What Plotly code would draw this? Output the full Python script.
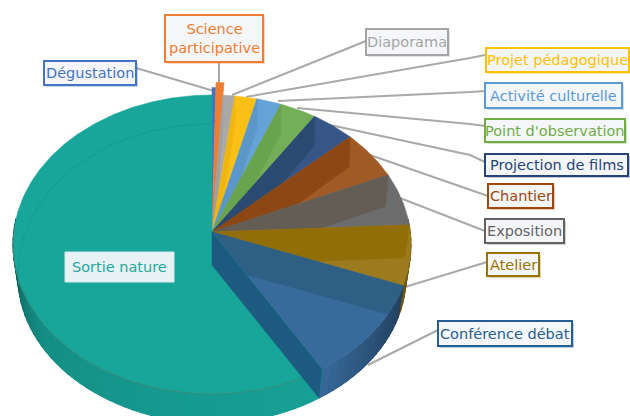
import math
import numpy as np
import plotly.graph_objects as go

# ---- data (share of the pie, %, clockwise from 12 o'clock) ----
categories = ["Dégustation", "Science<br>participative", "Diaporama", "Projet pédagogique",
              "Activité culturelle", "Point d'observation", "Projection de films", "Chantier",
              "Exposition", "Atelier", "Conférence débat", "Sortie nature"]
values = [0.32, 0.64, 1.05, 1.94, 2.17, 3.22, 3.83, 5.33, 5.75, 6.47, 10.67, 58.61]

# ---- style ----
top_colors = ["#4472c4", "#ed7d31", "#a9a9a9", "#fac015", "#65a2d8", "#74ae56", "#375586", "#a05a26",
              "#6c6c6c", "#9c7a1e", "#386b9c", "#18a69b"]
in_colors = ["#4472c4", "#ed7d31", "#9f9f9f", "#f0b60f", "#5b98c9", "#68a44d", "#2b4a72", "#8c4714",
             "#635d56", "#916e08", "#2e6085", "#18a69b"]
text_colors = ["#4472c4", "#ed7d31", "#a5a5a5", "#ffc000", "#5b9bd5", "#70ad47", "#264478", "#9e480e",
               "#636363", "#997300", "#255e91", "#1fa79c"]
explode = [1.06, 1.10, 1, 1, 1, 1, 1, 1, 1, 1, 1, 1]

CX, CY = 212, 232
A, K, P = 198.3, 148.5, 0.0836


def proj(theta, r=1.0):
    X, Y = r * np.sin(theta), r * np.cos(theta)
    s = 1 / (1 + P * Y)
    return CX + A * X * s, CY - K * Y * s


def proj_bottom(theta):
    """Same rim on the underside of the disc."""
    x, y = proj(theta)
    dy = y - CY
    fx = np.interp(dy, [-137, 0, 137], [1.0, 0.975, 0.973])
    d = np.interp(dy, [-137, 0, 137], [29, 33, 29])
    return CX + fx * (x - CX), y + d


CENTER_BOTTOM = (CX, CY + 33)
cum = np.concatenate([[0], np.cumsum(values)]) / sum(values) * 2 * math.pi
fig = go.Figure()


def poly(xs, ys, color, width=0.5, line=None):
    fig.add_trace(go.Scatter(x=list(xs), y=list(ys), mode="lines", fill="toself", fillcolor=color,
                             line=dict(color=line or color, width=width), hoverinfo="skip", showlegend=False))


def stroke(xs, ys, color, width=1.0):
    fig.add_trace(go.Scatter(x=list(xs), y=list(ys), mode="lines", line=dict(color=color, width=width),
                             hoverinfo="skip", showlegend=False))


def clip_convex(subject, clipper):
    """Sutherland-Hodgman clip of a polygon by a convex polygon."""
    area = sum(clipper[j][0] * clipper[(j + 1) % len(clipper)][1] - clipper[(j + 1) % len(clipper)][0] * clipper[j][1]
               for j in range(len(clipper)))
    sign = 1 if area > 0 else -1
    out = subject
    for j in range(len(clipper)):
        ax, ay = clipper[j]
        bx, by = clipper[(j + 1) % len(clipper)]
        if abs(ax - bx) + abs(ay - by) < 1e-9:
            continue
        inside = lambda p: sign * ((bx - ax) * (p[1] - ay) - (by - ay) * (p[0] - ax)) >= -1e-9
        new = []
        for k in range(len(out)):
            p, q = out[k], out[(k + 1) % len(out)]
            ip, iq = inside(p), inside(q)
            if ip:
                new.append(p)
            if ip != iq:
                d1 = (bx - ax) * (p[1] - ay) - (by - ay) * (p[0] - ax)
                d2 = (bx - ax) * (q[1] - ay) - (by - ay) * (q[0] - ax)
                t = d1 / (d1 - d2)
                new.append((p[0] + t * (q[0] - p[0]), p[1] + t * (q[1] - p[1])))
        out = new
        if not out:
            break
    return out


# leader lines, from label to slice edge
leaders = [((136, 68), (214, 91)), ((219, 62), (219, 84)), ((366, 41), (232, 95)), ((485, 55), (470, 58), (246, 97)),
           ((485, 91), (470, 92), (278, 101)), ((485, 126), (470, 124), (297, 108)),
           ((485, 162), (470, 155), (330, 125)), ((488, 196), (370, 155)), ((485, 231), (400, 198)),
           ((487, 262), (405, 287)), ((438, 330), (368, 365))]
for pts in leaders:
    stroke([p[0] for p in pts], [p[1] for p in pts], "#a9a9a9", 2)


def shade(hexc, f):
    c = [int(hexc[i:i + 2], 16) for i in (1, 3, 5)]
    return "rgb(%d,%d,%d)" % tuple(int(min(255, v * f)) for v in c)


# outer walls (front half only)
def wall_factor(i, t):
    deg = math.degrees(t)
    if i == 11:
        return float(np.interp(deg, [149, 190, 235, 255, 266, 272], [0.97, 0.93, 0.86, 0.7, 0.5, 0.3]))
    if i == 10:
        return float(np.interp(deg, [110, 125, 149], [0.6, 0.72, 0.98]))
    return 0.7


for i in range(len(values)):
    lo, hi = max(cum[i], math.radians(85)), min(cum[i + 1], math.radians(275))
    if hi <= lo:
        continue
    n = max(1, int(math.degrees(hi - lo) / 2.5))
    edges = np.linspace(lo, hi, n + 1)
    for a, b in zip(edges[:-1], edges[1:]):
        ts = np.linspace(a, b + 0.004, 4)
        x1, y1 = proj(ts)
        x2, y2 = proj_bottom(ts[::-1])
        col = shade(top_colors[i], wall_factor(i, (a + b) / 2))
        poly(np.r_[x1, x2, x1[0]], np.r_[y1, y2, y1[0]], col, width=1)

# top faces, each with its see-through radial wall
for i in range(len(values)):
    a, b, r = cum[i], cum[i + 1], explode[i]
    ts = np.linspace(a, b, max(6, int(math.degrees(b - a) * 1.5)))
    x, y = proj(ts, r)
    poly(np.r_[CX, x, CX], np.r_[CY, y, CY], top_colors[i])
    if i < 11 and r == 1:
        px, py = proj(a)
        qx, qy = proj_bottom(a)
        wedge = [(CX, CY)] + list(zip(x, y))
        band = clip_convex([(CX, CY), (px, py), (float(qx), float(qy)), CENTER_BOTTOM], wedge)
        if band:
            poly([p[0] for p in band] + [band[0][0]], [p[1] for p in band] + [band[0][1]], in_colors[i])

# faint far rim seen through the teal face
ts = np.linspace(math.radians(262), 2 * math.pi - 0.01, 80)
x, y = proj_bottom(ts)
stroke(x, y, "#159a8f", 1)

# near rim of the teal face
ts = np.linspace(cum[11], math.radians(272), 80)
x, y = proj(ts)
stroke(x, y, "#3d8574", 0.8)

# cut wall of the conférence slice, over the teal face
px, py = proj(cum[11])
qx, qy = proj_bottom(cum[11])
poly([CX, px, qx, CENTER_BOTTOM[0], CX], [CY, py, qy, CENTER_BOTTOM[1], CY], "#1c5a80")

# ---- labels ----
boxes = [(44, 136, 61, 85), (165, 263, 15, 62), (366, 448, 29, 55), (486, 629, 48, 72), (485, 622, 83, 108),
         (485, 625, 119, 142), (485, 628, 154, 176), (488, 553, 184, 208), (485, 564, 219, 243),
         (487, 539, 253, 276), (438, 572, 321, 346), (65, 174, 252, 282)]
for i, (x0, x1, y0, y1) in enumerate(boxes):
    fig.add_shape(type="rect", x0=x0 + 2, x1=x1 + 2, y0=y0 + 2, y1=y1 + 2, line=dict(width=0),
                  fillcolor=shade(text_colors[i], 1.0).replace("rgb", "rgba").replace(")", ",0.30)"))
    fig.add_shape(type="rect", x0=x0, x1=x1, y0=y0, y1=y1,
                  line=dict(color=text_colors[i] if i < 11 else "#d3e9ea", width=2 if i < 11 else 1),
                  fillcolor="#f5f6fa" if i < 11 else "#e8f2f5")
    fig.add_annotation(x=(x0 + x1) / 2, y=(y0 + y1) / 2, xref="x", yref="y", text=categories[i], showarrow=False,
                       font=dict(family="DejaVu Sans", size=14.5, color=text_colors[i]), align="center")

fig.update_layout(width=630, height=416, margin=dict(l=0, r=0, t=0, b=0), paper_bgcolor="white", plot_bgcolor="white",
                  xaxis=dict(range=[0, 630], visible=False, fixedrange=True),
                  yaxis=dict(range=[416, 0], visible=False, fixedrange=True), showlegend=False)
fig.write_html("out.html", config=dict(displayModeBar=False),
               post_script="document.body.style.margin='0';document.body.style.overflow='hidden';")
